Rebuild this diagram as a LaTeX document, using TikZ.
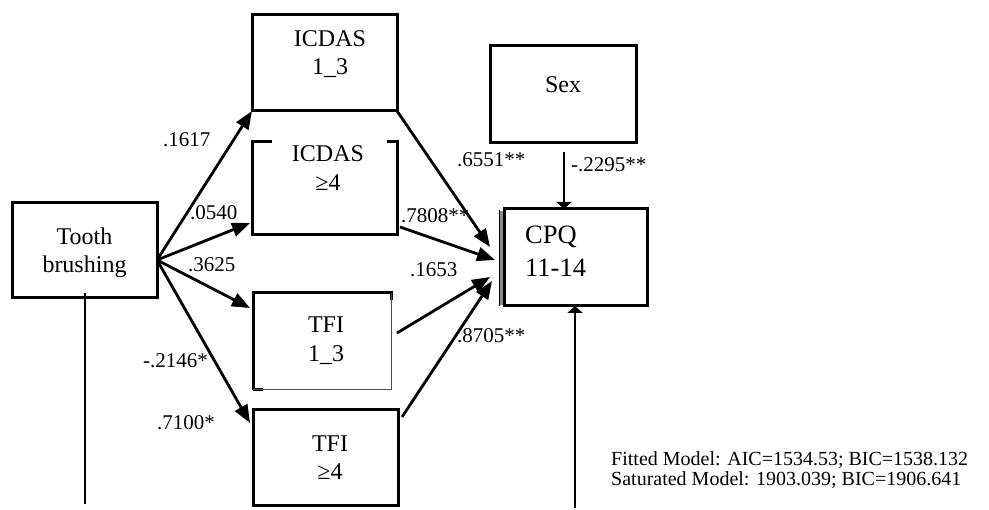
\documentclass[tikz,border=0pt]{standalone}
\usepackage{fontspec}
\setmainfont{Liberation Serif}
\usetikzlibrary{arrows.meta,calc}
\begin{document}
\begin{tikzpicture}[x=1pt,y=-1pt,
  lw/.style={line width=3pt},
  boxnode/.style={draw,lw,rectangle,inner sep=0pt,outer sep=0pt},
  shell/.style={rectangle,inner sep=0pt,outer sep=0pt},
  boxtext/.style={font=\fontsize{24}{28}\selectfont,inner sep=0pt,anchor=base},
  cpqtext/.style={font=\fontsize{26.5}{33}\selectfont,inner sep=0pt,anchor=base west},
  coef/.style={font=\fontsize{21}{25}\selectfont,inner sep=0pt,anchor=base west},
  note/.style={font=\fontsize{20}{20}\selectfont,inner sep=0pt,anchor=base west},
  arr/.style={line width=2.8pt,-{Triangle[length=18pt,width=14pt]}},
  smallarr/.style={line width=2.8pt,-{Triangle[length=7pt,width=15pt]}},
  plain/.style={line width=2.8pt}]
\useasboundingbox (0,0) rectangle (989,510);

% boxes
\node[boxnode,minimum width=145pt,minimum height=95pt] (tooth) at (84.5,250.5) {};
\node[boxnode,minimum width=145pt,minimum height=96pt] (icdas13) at (324.5,63) {};
\node[shell,minimum width=145pt,minimum height=93pt] (icdas4) at (324.5,188.5) {};
\node[shell,minimum width=138pt,minimum height=97pt] (tfi13) at (322,341.5) {};
\node[boxnode,minimum width=145pt,minimum height=96pt] (tfi4) at (325.5,458) {};
\node[boxnode,minimum width=146pt,minimum height=97pt] (sex) at (563,94.5) {};
\node[boxnode,minimum width=143pt,minimum height=97pt] (cpq) at (575.5,257.5) {};

% partial borders of ICDAS >=4
\draw[lw] ($(icdas4.north west)+(20,0)$) -- (icdas4.north west) -- (icdas4.south west)
  -- (icdas4.south east) -- (icdas4.north east) -- ($(icdas4.north east)+(-10,0)$);
% partial borders of TFI 1_3
\draw[lw] (tfi13.south west) -- (tfi13.north west) -- (tfi13.north east) -- ($(tfi13.north east)+(0,7)$);
\draw[lw] (tfi13.south west) -- ($(tfi13.south west)+(10,0)$);
\draw[line width=1pt,black!70] (tfi13.north east) -- (tfi13.south east) -- (tfi13.south west);
% double left edge of CPQ
\fill[black!45] ($(cpq.north west)+(-4,2)$) rectangle ($(cpq.south west)+(-1,-1)$);
\draw[line width=1.8pt] ($(cpq.north west)+(-4.5,1.5)$) -- ($(cpq.south west)+(-4.5,0)$);

% texts
\node[boxtext] (toothA) at (84.5,245) {Tooth};
\node[boxtext] (toothB) at (84.5,273) {brushing};
\node[boxtext] (icdas13A) at (330,47) {ICDAS};
\node[boxtext] (icdas13B) at (330,75) {1\_3};
\node[boxtext] (icdas4A) at (328,162) {ICDAS};
\node[boxtext] (icdas4B) at (328,191) {≥4};
\node[boxtext] (tfi13A) at (326,333) {TFI};
\node[boxtext] (tfi13B) at (326,362) {1\_3};
\node[boxtext] (tfi4A) at (330,452) {TFI};
\node[boxtext] (tfi4B) at (330,480) {≥4};
\node[boxtext] (sexA) at (563,93) {Sex};
\node[cpqtext] (cpqA) at (525,244) {CPQ};
\node[cpqtext] (cpqB) at (525,277) {11-14};

% connector points
\coordinate (src) at (157,260);
\coordinate (inIc4) at ($(icdas4.south west)+(-2,-12)$);
\coordinate (inTf13) at ($(tfi13.north west)+(-3,15)$);
\coordinate (inTf4) at ($(tfi4.north west)+(-3,13)$);
\coordinate (outIc4) at (400,227);
\coordinate (outTf13) at (397,333);
\coordinate (outTf4) at (402,417);
\coordinate (c1) at (490,247);
\coordinate (c2) at (495,260);
\coordinate (c3) at (490,277);
\coordinate (c4) at (492,281);
\coordinate (sexOut) at (564,152);
\coordinate (toothTop) at (85,293);
\coordinate (toothEnd) at (85,504);
\coordinate (cpqLow) at (575,508);

% arrows
\draw[arr] (src) -- (icdas13.south west);
\draw[arr] (src) -- (inIc4);
\draw[arr] (src) -- (inTf13);
\draw[arr] (src) -- (inTf4);
\draw[arr] (icdas13.south east) -- (c1);
\draw[arr] (outIc4) -- (c2);
\draw[arr] (outTf13) -- (c3);
\draw[arr] (outTf4) -- (c4);
\draw[smallarr] (sexOut) -- (sexOut |- cpq.north);
\draw[smallarr] (cpqLow) -- (cpqLow |- cpq.south);
\draw[plain] (toothTop) -- (toothEnd);

% coefficients
\node[coef] (k1) at (163,147) {.1617};
\node[coef] (k2) at (190,220) {.0540};
\node[coef] (k3) at (188,272) {.3625};
\node[coef] (k4) at (143,368) {-.2146*};
\node[coef] (k5) at (157,430) {.7100*};
\node[coef] (k6) at (457,167) {.6551**};
\node[coef] (k7) at (401,223) {.7808**};
\node[coef] (k8) at (410,277) {.1653};
\node[coef] (k9) at (457,343) {.8705**};
\node[coef] (k10) at (571,172) {-.2295**};

% fit notes
\node[note] (fit1) at (611,466) {Fitted Model: AIC=1534.53; BIC=1538.132};
\node[note] (fit2) at (611,486) {Saturated Model: 1903.039; BIC=1906.641};
\end{tikzpicture}
\end{document}
